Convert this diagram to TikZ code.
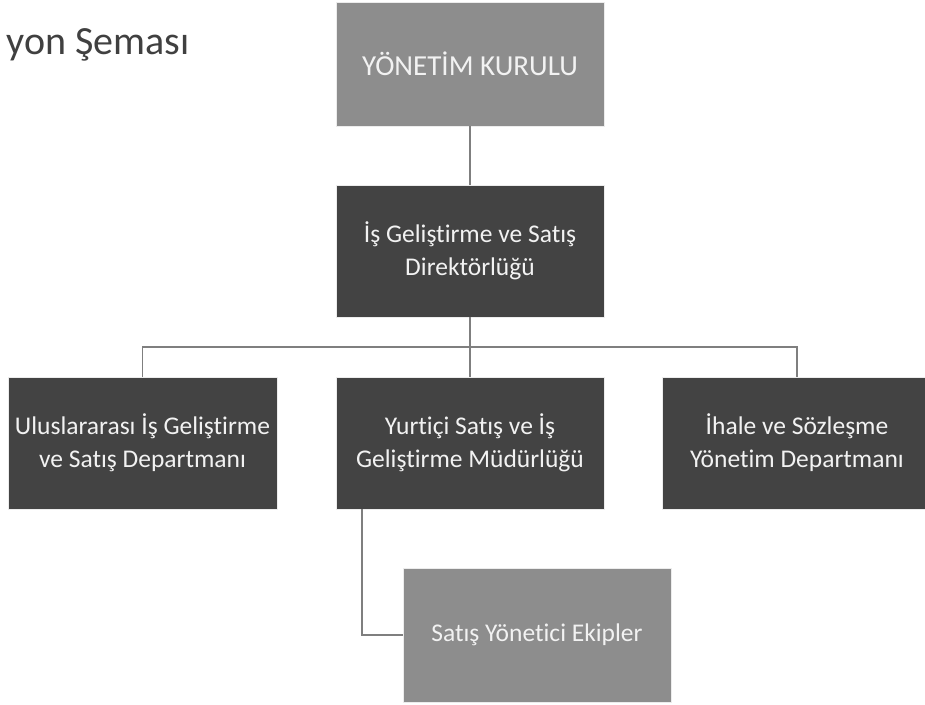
\documentclass[tikz,border=0pt]{standalone}
\usepackage{fontspec}
\setmainfont{Carlito}[Ligatures=NoCommon]
\usepackage{xcolor}
\usetikzlibrary{positioning,calc}
\definecolor{lightbox}{HTML}{8D8D8D}
\definecolor{darkbox}{HTML}{434343}
\definecolor{linkcolor}{HTML}{7F7F7F}
\definecolor{titlecolor}{HTML}{404040}

\begin{document}
\begin{tikzpicture}[
    x=1pt, y=1pt,
    box/.style={rectangle, draw=white!85!gray, line width=0.8pt, minimum width=268pt, minimum height=132pt, align=center, text=white!95!black, font=\fontsize{25.5}{33}\selectfont, inner sep=0pt},
    topbox/.style={box, fill=lightbox},
    deptbox/.style={box, fill=darkbox},
    link/.style={draw=linkcolor, line width=1.8pt}
]
\useasboundingbox (0,0) rectangle (925,704);

% Title
\node[font=\fontsize{40}{48}\selectfont, text=titlecolor, anchor=base east, inner sep=0pt] (title) at (190, 649) {yon Şeması};

% Board and directorate
\node[topbox, minimum height=124pt, font=\fontsize{29}{35}\selectfont] (board) at (470, 640) {YÖNETİM KURULU};
\node[deptbox] (director) at (470, 453) {İş Geliştirme ve Satış\\Direktörlüğü};

% Departments
\node[deptbox, minimum width=269pt] (intl) at (142.5, 261) {Uluslararası İş Geliştirme\\ve Satış Departmanı};
\node[deptbox] (domestic) at (470, 261) {Yurtiçi Satış ve İş\\Geliştirme Müdürlüğü};
\node[deptbox, minimum width=270pt] (tender) at (797, 261) {İhale ve Sözleşme\\Yönetim Departmanı};

% Sales teams
\node[topbox, minimum height=134pt] (teams) at (537, 69) {Satış Yönetici Ekipler};

% Links
\coordinate (bus) at (470, 357);
\draw[link] (board) -- (director);
\draw[link] (director) -- (domestic);
\draw[link] (intl.north) |- (bus) -| (tender.north);
\draw[link] ($(domestic.south west)+(26,0)$) |- (teams.west);

\end{tikzpicture}
\end{document}
